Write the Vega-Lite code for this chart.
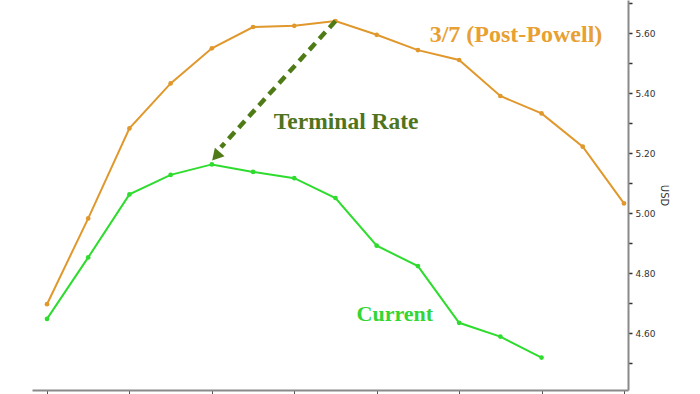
{
  "$schema": "https://vega.github.io/schema/vega-lite/v6.json",
  "width": 596,
  "height": 390,
  "autosize": {"type": "none"},
  "padding": {"left": 32, "top": 0, "right": 72, "bottom": 4},
  "background": "white",
  "config": {"view": {"stroke": null}},
  "datasets": {
    "curves": [
      {"series": "3/7 (Post-Powell)", "idx": 0, "rate": 4.697},
      {"series": "3/7 (Post-Powell)", "idx": 1, "rate": 4.983},
      {"series": "3/7 (Post-Powell)", "idx": 2, "rate": 5.283},
      {"series": "3/7 (Post-Powell)", "idx": 3, "rate": 5.433},
      {"series": "3/7 (Post-Powell)", "idx": 4, "rate": 5.55},
      {"series": "3/7 (Post-Powell)", "idx": 5, "rate": 5.621},
      {"series": "3/7 (Post-Powell)", "idx": 6, "rate": 5.625},
      {"series": "3/7 (Post-Powell)", "idx": 7, "rate": 5.641},
      {"series": "3/7 (Post-Powell)", "idx": 8, "rate": 5.595},
      {"series": "3/7 (Post-Powell)", "idx": 9, "rate": 5.544},
      {"series": "3/7 (Post-Powell)", "idx": 10, "rate": 5.511},
      {"series": "3/7 (Post-Powell)", "idx": 11, "rate": 5.391},
      {"series": "3/7 (Post-Powell)", "idx": 12, "rate": 5.333},
      {"series": "3/7 (Post-Powell)", "idx": 13, "rate": 5.222},
      {"series": "3/7 (Post-Powell)", "idx": 14, "rate": 5.033},
      {"series": "Current", "idx": 0, "rate": 4.648},
      {"series": "Current", "idx": 1, "rate": 4.853},
      {"series": "Current", "idx": 2, "rate": 5.063},
      {"series": "Current", "idx": 3, "rate": 5.128},
      {"series": "Current", "idx": 4, "rate": 5.163},
      {"series": "Current", "idx": 5, "rate": 5.138},
      {"series": "Current", "idx": 6, "rate": 5.117},
      {"series": "Current", "idx": 7, "rate": 5.051},
      {"series": "Current", "idx": 8, "rate": 4.892},
      {"series": "Current", "idx": 9, "rate": 4.824},
      {"series": "Current", "idx": 10, "rate": 4.635},
      {"series": "Current", "idx": 11, "rate": 4.589},
      {"series": "Current", "idx": 12, "rate": 4.519}
    ],
    "labels": [
      {"label": "3/7 (Post-Powell)", "idx": 11.38, "rate": 5.594},
      {"label": "Terminal Rate", "idx": 7.26, "rate": 5.304},
      {"label": "Current", "idx": 8.44, "rate": 4.664}
    ],
    "arrow": [
      {"idx": 7.0, "rate": 5.641, "idx2": 4.22, "rate2": 5.22, "headIdx": 4.13, "headRate": 5.195}
    ]
  },
  "layer": [
    {
      "data": {"name": "curves"},
      "mark": {"type": "line", "strokeWidth": 2, "point": {"size": 22, "filled": true}},
      "encoding": {
        "x": {
          "field": "idx", "type": "quantitative",
          "scale": {"domain": [-0.364, 14.098], "nice": false, "zero": false},
          "axis": {
            "orient": "bottom", "values": [0, 2, 4, 6, 8, 10, 12, 14], "tickCount": 30,
            "labels": false, "title": null, "grid": false,
            "domainColor": "#8a8a8a", "domainWidth": 2,
            "tickColor": "#555555", "tickSize": 5, "tickWidth": 1
          }
        },
        "y": {
          "field": "rate", "type": "quantitative",
          "scale": {"domain": [4.411, 5.711], "nice": false, "zero": false},
          "axis": {
            "orient": "right", "title": "USD", "titleAngle": 90,
            "titleFont": "DejaVu Sans", "titleFontSize": 10, "titleFontWeight": "normal",
            "titleColor": "#333333", "titlePadding": 3,
            "values": [4.5, 4.6, 4.7, 4.8, 4.9, 5.0, 5.1, 5.2, 5.3, 5.4, 5.5, 5.6, 5.7],
            "tickCount": 30, "labelOverlap": false,
            "labelExpr": "(round(datum.value*10) % 2 == 0) ? format(datum.value, '.2f') : ''",
            "labelFont": "DejaVu Sans", "labelFontSize": 9, "labelColor": "#333333",
            "labelPadding": 3, "grid": false,
            "domainColor": "#8a8a8a", "domainWidth": 2,
            "tickColor": "#333333", "tickSize": 4, "tickWidth": 1.5
          }
        },
        "color": {
          "field": "series", "type": "nominal",
          "scale": {"domain": ["3/7 (Post-Powell)", "Current"], "range": ["#E0982C", "#2EDC2E"]},
          "legend": null
        }
      }
    },
    {
      "data": {"name": "arrow"},
      "mark": {"type": "rule", "strokeWidth": 4.5, "strokeDash": [9, 6], "color": "#4E7B16"},
      "encoding": {
        "x": {"field": "idx", "type": "quantitative"},
        "y": {"field": "rate", "type": "quantitative"},
        "x2": {"field": "idx2"},
        "y2": {"field": "rate2"}
      }
    },
    {
      "data": {"name": "arrow"},
      "mark": {"type": "point", "shape": "triangle", "filled": true, "size": 170, "angle": 222, "color": "#4E7B16", "opacity": 1},
      "encoding": {
        "x": {"field": "headIdx", "type": "quantitative"},
        "y": {"field": "headRate", "type": "quantitative"}
      }
    },
    {
      "data": {"name": "labels"},
      "transform": [{"filter": "datum.label == '3/7 (Post-Powell)'"}],
      "mark": {"type": "text", "font": "Liberation Serif", "fontWeight": "bold", "fontSize": 24, "align": "center", "baseline": "middle", "color": "#E8A032"},
      "encoding": {
        "x": {"field": "idx", "type": "quantitative"},
        "y": {"field": "rate", "type": "quantitative"},
        "text": {"field": "label"}
      }
    },
    {
      "data": {"name": "labels"},
      "transform": [{"filter": "datum.label == 'Terminal Rate'"}],
      "mark": {"type": "text", "font": "Liberation Serif", "fontWeight": "bold", "fontSize": 23.5, "align": "center", "baseline": "middle", "color": "#4F7420"},
      "encoding": {
        "x": {"field": "idx", "type": "quantitative"},
        "y": {"field": "rate", "type": "quantitative"},
        "text": {"field": "label"}
      }
    },
    {
      "data": {"name": "labels"},
      "transform": [{"filter": "datum.label == 'Current'"}],
      "mark": {"type": "text", "font": "Liberation Serif", "fontWeight": "bold", "fontSize": 22, "align": "center", "baseline": "middle", "color": "#33D633"},
      "encoding": {
        "x": {"field": "idx", "type": "quantitative"},
        "y": {"field": "rate", "type": "quantitative"},
        "text": {"field": "label"}
      }
    }
  ]
}
